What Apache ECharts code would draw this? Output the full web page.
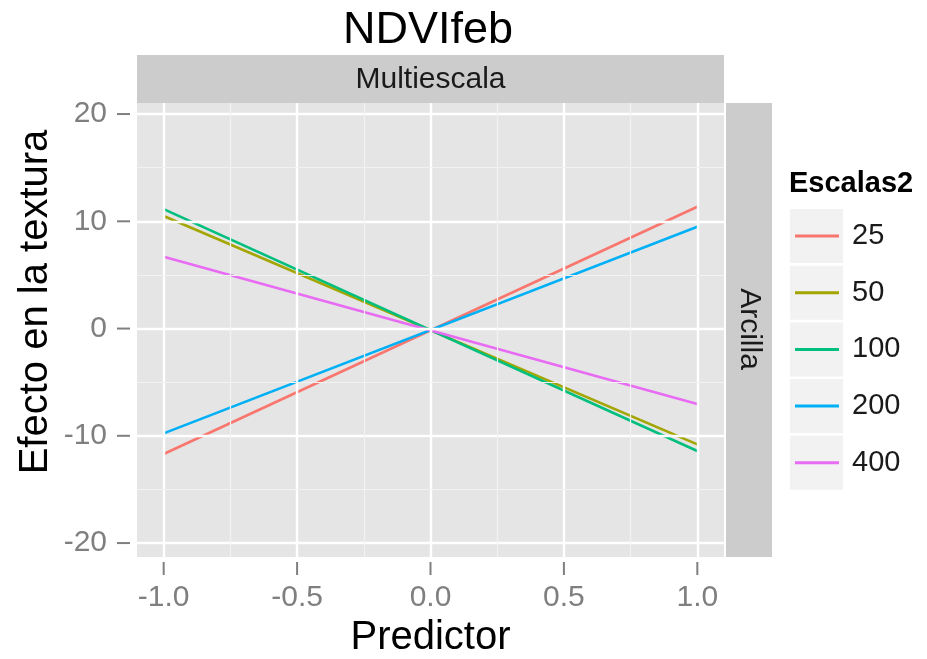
<!DOCTYPE html>
<html>
<head>
<meta charset="utf-8">
<script src="https://cdn.jsdelivr.net/npm/echarts@6/dist/echarts.min.js"></script>
<style>
html,body{margin:0;padding:0;background:#fff;}
#chart{width:927px;height:659px;}
</style>
</head>
<body>
<div id="chart"></div>
<script>
// ---- data ----
const scales = ['25', '50', '100', '200', '400'];
const predictorX = [-1, 1];
const s25 = [-11.7, 11.36];
const s50 = [10.49, -10.8];
const s100 = [11.14, -11.42];
const s200 = [-9.77, 9.49];
const s400 = [6.7, -7.04];
const xTicks = [-1, -0.5, 0, 0.5, 1];
const xTickLabels = ['-1.0', '-0.5', '0.0', '0.5', '1.0'];
const xMinor = [-0.75, -0.25, 0.25, 0.75];
const yTicks = [-20, -10, 0, 10, 20];
const yTickLabels = ['-20', '-10', '0', '10', '20'];
const yMinor = [-15, -5, 5, 15];

const colors = ['#F8766D', '#A3A500', '#00BF7D', '#00B0F6', '#E76BF3'];
const seriesValues = [s25, s50, s100, s200, s400];
const FONT = "'Liberation Sans', Arial, sans-serif";
const X_MIN = -1.1, X_MAX = 1.1, Y_MIN = -21.3, Y_MAX = 21.03;

function lab(ticks, labels) {
  return function (v) {
    for (let i = 0; i < ticks.length; i++) if (Math.abs(ticks[i] - v) < 1e-9) return labels[i];
    return '';
  };
}

const chart = echarts.init(document.getElementById('chart'), null, {renderer: 'canvas'});

const gridLines = [];
xTicks.forEach(v => gridLines.push({xAxis: v, lineStyle: {color: '#FFFFFF', width: 2.4, type: 'solid'}}));
yTicks.forEach(v => gridLines.push({yAxis: v, lineStyle: {color: '#FFFFFF', width: 2.4, type: 'solid'}}));
xMinor.forEach(v => gridLines.push({xAxis: v, lineStyle: {color: '#F2F2F2', width: 1.2, type: 'solid'}}));
yMinor.forEach(v => gridLines.push({yAxis: v, lineStyle: {color: '#F2F2F2', width: 1.2, type: 'solid'}}));

const series = [{
  name: '__grid',
  type: 'line',
  data: [],
  silent: true,
  z: 1,
  markLine: {
    silent: true,
    symbol: ['none', 'none'],
    label: {show: false},
    emphasis: {disabled: true},
    animation: false,
    data: gridLines
  }
}, {
  name: '__xticks',
  type: 'custom',
  silent: true,
  clip: false,
  data: xTicks.map(v => [v, Y_MIN]),
  renderItem: function (params, api) {
    const p = api.coord([api.value(0), api.value(1)]);
    return {type: 'line', shape: {x1: p[0], y1: p[1] + 5, x2: p[0], y2: p[1] + 18},
      style: {stroke: '#7F7F7F', lineWidth: 2}};
  }
}, {
  name: '__yticks',
  type: 'custom',
  silent: true,
  clip: false,
  data: yTicks.map(v => [X_MIN, v]),
  renderItem: function (params, api) {
    const p = api.coord([api.value(0), api.value(1)]);
    return {type: 'line', shape: {x1: p[0] - 7, y1: p[1], x2: p[0] - 20, y2: p[1]},
      style: {stroke: '#7F7F7F', lineWidth: 2}};
  }
}];
scales.forEach((s, i) => {
  series.push({
    name: s,
    type: 'line',
    data: predictorX.map((x, j) => [x, seriesValues[i][j]]),
    symbol: 'none',
    lineStyle: {color: colors[i], width: 2.6},
    itemStyle: {color: colors[i]},
    z: 3,
    clip: true
  });
});

const keyRects = scales.map((s, i) => ({
  type: 'rect',
  shape: {x: 790, y: 209 + i * 56.7, width: 53, height: 54},
  style: {fill: '#F2F2F2'},
  z: 0
}));

const option = {
  animation: false,
  backgroundColor: '#FFFFFF',
  textStyle: {fontFamily: FONT},
  color: colors,
  grid: {
    left: 137, top: 103, width: 587, height: 454,
    show: true, backgroundColor: '#E5E5E5', borderWidth: 0,
    containLabel: false,
    outerBoundsMode: 'none'
  },
  xAxis: {
    type: 'value', min: X_MIN, max: X_MAX, offset: 5,
    axisLine: {show: false},
    axisTick: {show: false},
    axisLabel: {customValues: xTicks, formatter: lab(xTicks, xTickLabels), color: '#7F7F7F', fontSize: 30, margin: 21, fontFamily: FONT},
    splitLine: {show: false},
    name: 'Predictor', nameLocation: 'middle', nameGap: 53,
    nameTextStyle: {fontSize: 40, color: '#000000', fontFamily: FONT}
  },
  yAxis: {
    type: 'value', min: Y_MIN, max: Y_MAX, offset: 7,
    axisLine: {show: false},
    axisTick: {show: false},
    axisLabel: {customValues: yTicks, formatter: lab(yTicks, yTickLabels), color: '#7F7F7F', fontSize: 30, margin: 23, fontFamily: FONT},
    splitLine: {show: false}
  },
  legend: {
    data: scales,
    orient: 'vertical',
    left: 795, top: 221,
    icon: 'rect',
    itemWidth: 44, itemHeight: 3,
    itemGap: 26.7,
    padding: 0,
    selectedMode: false,
    textStyle: {fontSize: 29, color: '#1A1A1A', lineHeight: 30, padding: [0, 0, 0, 8], fontFamily: FONT}
  },
  graphic: [
    {type: 'rect', shape: {x: 137, y: 55, width: 587, height: 48}, style: {fill: '#CCCCCC'}, z: 0},
    {type: 'rect', shape: {x: 726, y: 103, width: 46, height: 454}, style: {fill: '#CCCCCC'}, z: 0},
    {type: 'text', x: 430.5, y: 80, z: 5, style: {text: 'Multiescala', font: '30px ' + FONT, fill: '#1A1A1A', align: 'center', verticalAlign: 'middle', textAlign: 'center', textVerticalAlign: 'middle'}},
    {type: 'text', x: 749, y: 329, rotation: -Math.PI / 2, z: 5, style: {text: 'Arcilla', font: '30px ' + FONT, fill: '#1A1A1A', align: 'center', verticalAlign: 'middle', textAlign: 'center', textVerticalAlign: 'middle'}},
    {type: 'text', x: 428, y: 31, z: 5, style: {text: 'NDVIfeb', font: '45px ' + FONT, fill: '#000000', align: 'center', verticalAlign: 'middle', textAlign: 'center', textVerticalAlign: 'middle'}},
    {type: 'text', x: 789, y: 184, z: 5, style: {text: 'Escalas2', font: 'bold 29px ' + FONT, fill: '#000000', align: 'left', verticalAlign: 'middle', textAlign: 'left', textVerticalAlign: 'middle'}},
    {type: 'text', x: 36, y: 302, rotation: Math.PI / 2, z: 5, style: {text: 'Efecto en la textura', font: '40px ' + FONT, fill: '#000000', align: 'center', verticalAlign: 'middle', textAlign: 'center', textVerticalAlign: 'middle'}}
  ].concat(keyRects),
  series: series
};
chart.setOption(option);
</script>
</body>
</html>
